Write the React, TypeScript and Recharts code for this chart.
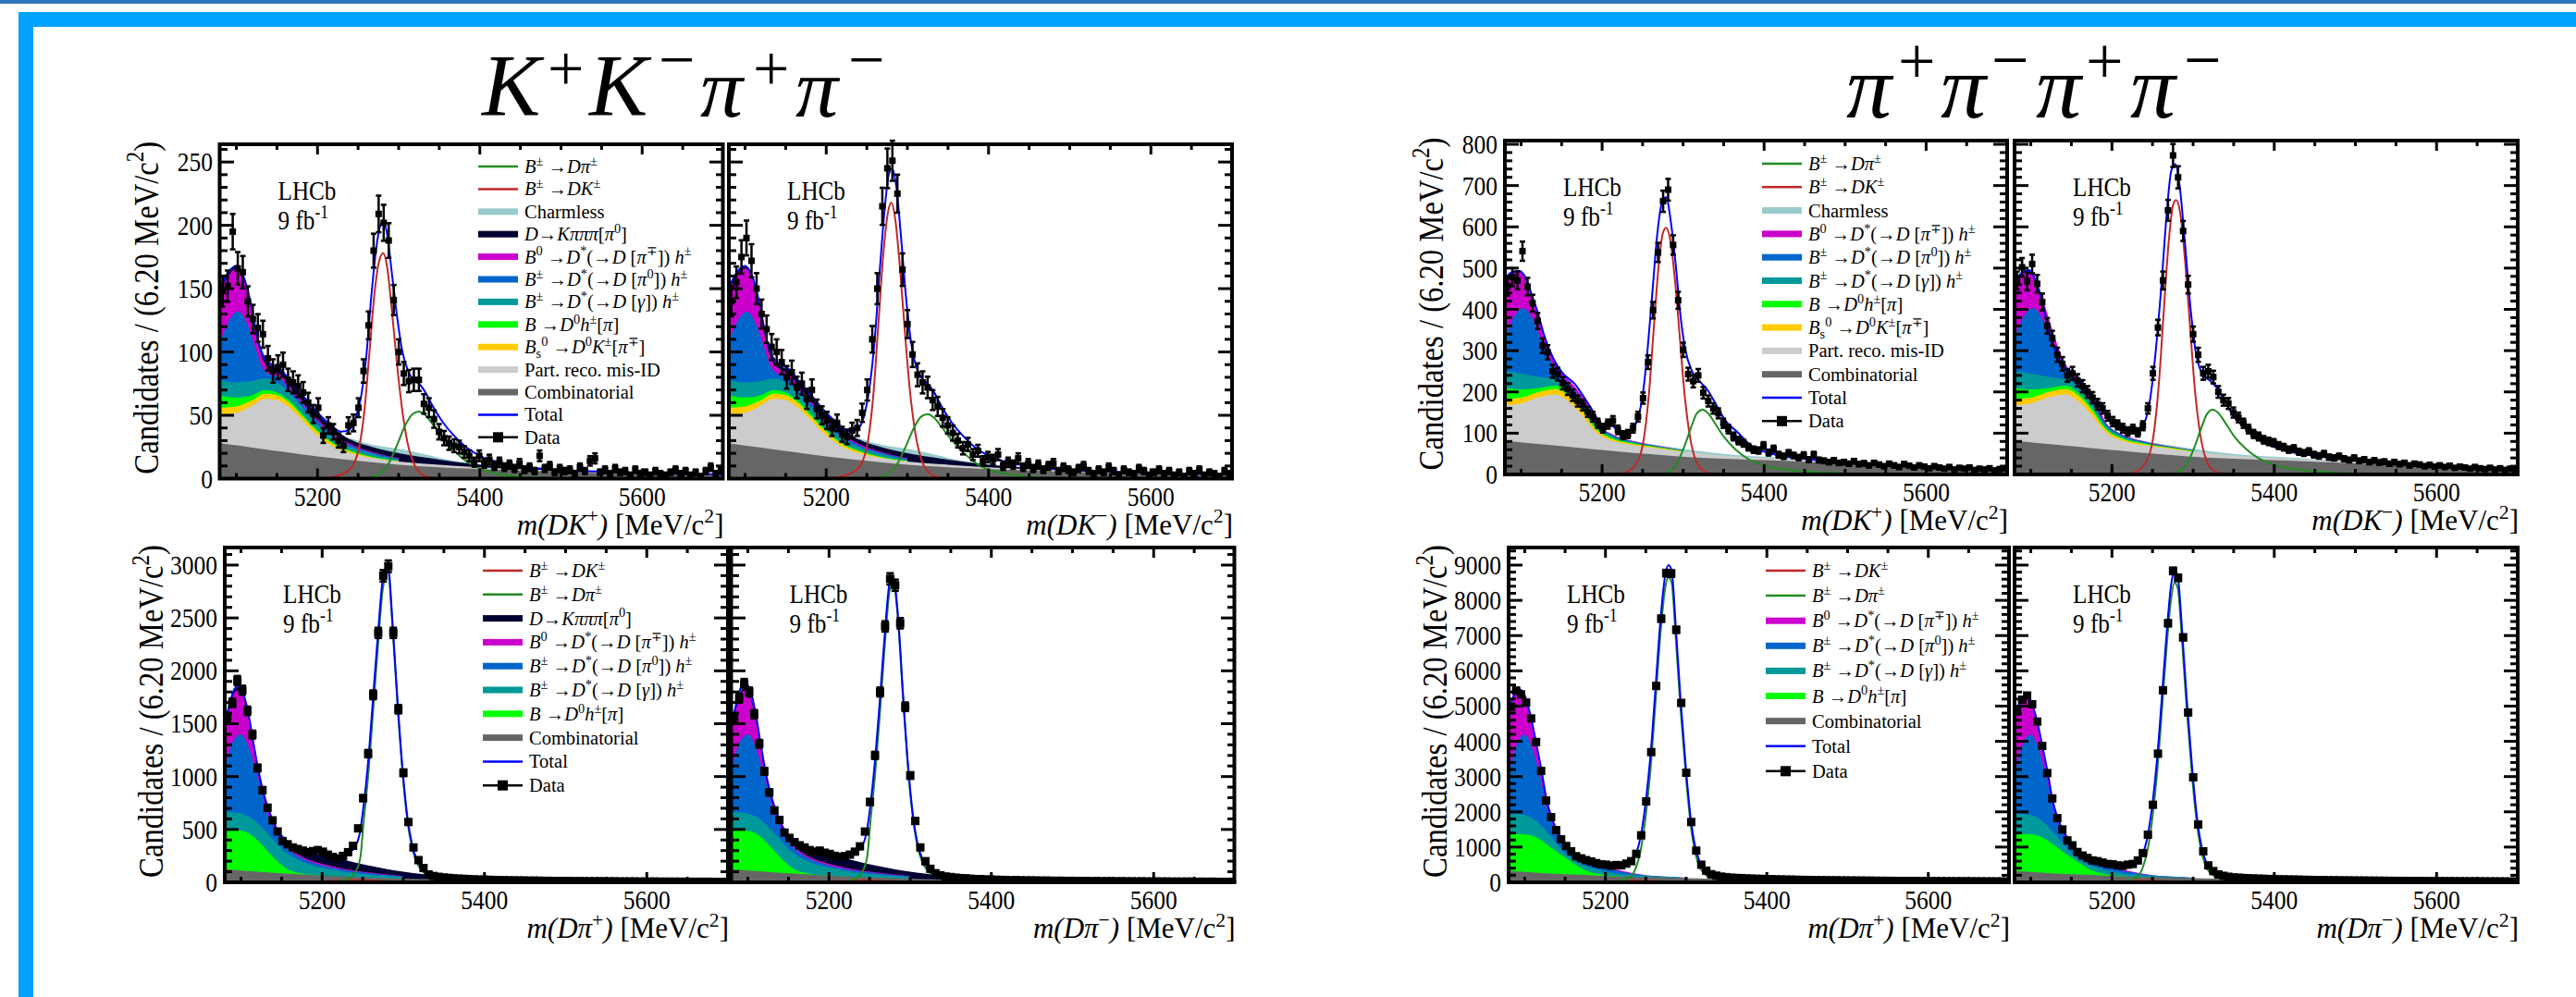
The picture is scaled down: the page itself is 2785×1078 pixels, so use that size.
import React from "react";
import {
  Area,
  ComposedChart,
  ErrorBar,
  Legend,
  Line,
  Scatter,
  XAxis,
  YAxis,
} from "recharts";

const SERIF = '"Liberation Serif", "Times New Roman", Times, serif';

type Pt = [number, number];

// mass window and binning (6.20 MeV bins)
const M_LO = 5080;
const M_HI = 5700;
const BIN = 6.2;
const binCentres = Array.from({ length: 100 }, (_, i) => +(M_LO + BIN * (i + 0.5)).toFixed(2));
const massTicks = [5100, 5150, 5200, 5250, 5300, 5350, 5400, 5450, 5500, 5550, 5600, 5650];

const C_CHARMLESS = "#99cccc";
const C_K3PI = "#000033";
const C_DSTPI = "#cc00cc";
const C_DSTPI0 = "#0066cc";
const C_DSTG = "#009999";
const C_D0H = "#00ff00";
const C_BS = "#ffcc00";
const C_MISID = "#cccccc";
const C_COMB = "#666666";
const C_DK = "#c02828";
const C_DPI = "#228b22";
const C_TOTAL = "#0000ff";

// ---------- K+K-pi+pi-, B -> DK candidates (top left pair), stacked boundaries
const kkDkComb: Pt[] = [[5080,28],[5120,24.5],[5160,21],[5200,17.5],[5250,14],[5300,11],[5350,9],[5400,7.5],[5450,6.3],[5500,5.3],[5600,3.8],[5700,2.8]];
const kkDkMisId: Pt[] = [[5080,51],[5100,52],[5120,58],[5135,63],[5150,62],[5165,56],[5180,47],[5200,34],[5220,25],[5240,20],[5270,16],[5300,13.5],[5350,11],[5400,9],[5450,7.5],[5500,6.3],[5600,4.5],[5700,3.3]];
const kkDkBs: Pt[] = [[5080,56],[5100,57],[5120,62],[5135,67],[5150,66],[5165,60],[5180,50],[5200,37],[5220,27],[5240,21.5],[5270,16.5],[5300,13.8]];
const kkDkD0h: Pt[] = [[5080,66],[5100,64],[5120,66],[5135,70],[5150,68],[5165,62],[5180,52],[5200,38.5],[5220,28],[5240,22.5],[5270,17],[5300,14.1]];
const kkDkDstG: Pt[] = [[5080,78],[5100,76],[5120,77],[5135,79],[5150,76],[5165,68],[5180,57],[5200,42.5],[5220,32],[5240,25],[5270,19],[5300,15]];
const kkDkDstPi0: Pt[] = [[5080,108],[5092,126],[5102,132],[5112,124],[5122,106],[5132,88],[5142,82],[5153,80],[5165,71],[5180,60],[5200,45.5],[5220,34],[5240,26.5],[5270,20],[5300,15.5]];
const kkDkDstPi: Pt[] = [[5080,148],[5090,160],[5100,166],[5110,157],[5118,136],[5126,108],[5134,92],[5144,86],[5155,82],[5165,73.5],[5180,62],[5200,47],[5220,35.5],[5240,27.5],[5270,20.7],[5300,16.2]];
const kkDkK3pi: Pt[] = [[5080,150],[5090,162],[5100,167.5],[5110,158.5],[5118,138],[5126,110],[5134,95],[5144,89],[5155,85],[5165,77],[5180,66],[5200,51],[5220,39.5],[5240,31],[5270,24.5],[5300,20],[5350,15],[5400,11],[5450,8.5],[5500,7],[5600,5],[5700,3.6]];
const kkDkCharmless: Pt[] = [[5240,32],[5270,26.5],[5290,24.5],[5310,22.5],[5330,19.5],[5350,16.5],[5380,13],[5400,11.5],[5430,9.6],[5460,8.2]];

const kkDkPlusSigDK: Pt[] = [[5200,0],[5220,1.5],[5235,5],[5245,12],[5252,27],[5258,55],[5264,100],[5270,145],[5276,172],[5281,178],[5286,166],[5292,130],[5298,90],[5304,56],[5311,28],[5320,10],[5332,2],[5345,0]];
const kkDkPlusSigDpi: Pt[] = [[5255,0],[5270,2],[5285,9],[5297,25],[5308,42],[5317,51],[5325,53],[5333,50],[5343,42],[5355,31],[5370,21],[5385,13],[5400,8],[5420,4],[5450,1.5],[5480,0.5],[5500,0]];
const kkDkPlusTotal: Pt[] = [[5080,151],[5090,163],[5100,168],[5108,161],[5118,138],[5126,111],[5134,96],[5144,90],[5155,86],[5165,78],[5180,67],[5200,52],[5215,43],[5229,37],[5240,39],[5248,50],[5254,66],[5260,96],[5266,142],[5272,180],[5277,199],[5281,203],[5286,192],[5292,160],[5298,128],[5304,102],[5311,86],[5318,78],[5325,75],[5333,68],[5343,56],[5355,44],[5368,34],[5381,26],[5400,18],[5430,12],[5460,9],[5500,7],[5550,5.5],[5600,4.5],[5650,3.8],[5700,3.3]];
const kkDkPlusData = [
  148,152,195,166,163,140,126,119,114,95,
  85,88,90,78,76,73,68,60,51,56,
  34,42,37,30,26,42,44,56,85,121,
  180,209,202,188,141,100,83,77,78,78,
  59,56,47,37,32,28,26,25,21,18,
  13,18,12,15,10,13,9,11,8,12,
  7,9,6,18,8,10,5,8,6,7,
  4,9,6,14,16,5,7,4,8,5,
  6,3,7,4,5,3,6,4,3,5,
  7,4,6,3,5,2,6,9,4,7,
];

const kkDkMinusSigDK: Pt[] = [[5200,0],[5220,2],[5235,6],[5245,14],[5252,32],[5258,66],[5264,120],[5270,175],[5276,210],[5280,218],[5285,205],[5291,165],[5297,115],[5303,70],[5310,35],[5319,12],[5330,3],[5345,0]];
const kkDkMinusSigDpi: Pt[] = [[5255,0],[5270,2],[5285,9],[5297,24],[5308,40],[5317,49],[5325,51],[5333,48],[5343,40],[5355,30],[5370,20],[5385,12],[5400,7],[5420,4],[5450,1.5],[5480,0.5],[5500,0]];
const kkDkMinusTotal: Pt[] = [[5080,151],[5090,163],[5100,168],[5108,161],[5118,138],[5126,111],[5134,96],[5144,90],[5155,86],[5165,78],[5180,67],[5200,52],[5215,43],[5229,37],[5240,40],[5248,53],[5254,75],[5260,112],[5266,165],[5272,213],[5277,240],[5281,245],[5286,232],[5292,192],[5298,145],[5304,110],[5311,88],[5318,79],[5325,75],[5333,68],[5343,56],[5355,44],[5368,34],[5381,26],[5400,18],[5430,12],[5460,9],[5500,7],[5550,5.5],[5600,4.5],[5650,3.8],[5700,3.3]];
const kkDkMinusData = [
  140,155,175,190,172,150,130,118,104,100,
  92,80,84,72,75,63,70,55,50,46,
  40,44,35,33,38,40,52,70,110,150,
  215,245,251,225,165,122,98,82,76,72,
  62,57,48,42,36,30,24,27,19,22,
  14,17,15,19,10,13,11,16,9,12,
  8,11,7,10,12,6,9,7,5,8,
  10,6,4,7,5,9,6,3,7,5,
  4,8,6,3,5,7,4,6,3,5,
  2,6,4,7,3,5,4,2,6,4,
];

// ---------- pi+pi-pi+pi-, B -> DK candidates (top right pair)
const ppDkComb: Pt[] = [[5080,82],[5130,72],[5180,63],[5230,54],[5280,46],[5307,42],[5350,38],[5410,34],[5450,31],[5500,27],[5550,23],[5600,20],[5650,17],[5700,14]];
const ppDkMisId: Pt[] = [[5080,168],[5100,172],[5120,186],[5143,194],[5158,178],[5174,146],[5193,101],[5212,82],[5238,71],[5269,63],[5307,53],[5350,46],[5400,40],[5450,35],[5500,30],[5550,25],[5600,21],[5650,18],[5700,15]];
const ppDkBs: Pt[] = [[5080,183],[5100,186],[5120,199],[5143,207],[5158,192],[5174,158],[5193,108],[5212,86],[5238,74],[5269,65],[5300,56]];
const ppDkD0h: Pt[] = [[5080,210],[5100,206],[5120,209],[5143,215],[5158,199],[5174,165],[5193,112],[5212,89],[5238,76],[5269,66],[5300,57]];
const ppDkDstG: Pt[] = [[5080,250],[5100,244],[5120,237],[5143,230],[5158,212],[5174,176],[5193,118],[5212,93],[5238,78],[5269,67],[5300,58]];
const ppDkDstPi0: Pt[] = [[5080,330],[5092,385],[5103,403],[5112,385],[5122,340],[5132,292],[5143,255],[5158,222],[5174,185],[5193,122],[5212,96],[5238,80],[5269,68],[5300,58.5]];
const ppDkDstPi: Pt[] = [[5080,470],[5090,490],[5098,493],[5106,474],[5114,430],[5122,380],[5130,330],[5140,278],[5151,245],[5166,214],[5180,176],[5193,125],[5212,98],[5238,81],[5269,69],[5300,59]];
const ppDkCharmless: Pt[] = [[5230,84],[5269,71],[5300,62],[5350,50],[5400,43],[5450,37],[5500,31],[5550,26],[5600,22],[5650,18],[5700,15]];

const ppDkPlusSigDK: Pt[] = [[5215,0],[5228,4],[5240,20],[5250,70],[5258,200],[5264,360],[5270,510],[5275,585],[5279,598],[5284,570],[5290,470],[5296,330],[5302,190],[5309,85],[5316,32],[5325,9],[5338,1],[5350,0]];
const ppDkPlusSigDpi: Pt[] = [[5265,0],[5280,5],[5292,25],[5302,70],[5310,115],[5317,148],[5324,157],[5331,148],[5340,122],[5350,92],[5365,60],[5380,38],[5400,22],[5430,11],[5470,5],[5520,2],[5580,0]];
const ppDkPlusTotal: Pt[] = [[5080,474],[5088,490],[5098,493],[5106,475],[5114,430],[5121,390],[5128,340],[5140,280],[5151,246],[5166,220],[5185,165],[5200,122],[5212,118],[5223,103],[5235,100],[5243,130],[5250,190],[5256,300],[5262,440],[5268,580],[5274,660],[5279,672],[5285,610],[5291,505],[5297,380],[5303,300],[5311,250],[5322,222],[5330,205],[5341,168],[5352,131],[5368,101],[5383,71],[5410,50],[5450,38],[5500,30],[5550,24],[5600,20],[5650,16],[5700,13]];
const ppDkPlusData = [
  455,478,470,541,455,415,372,312,296,250,
  243,221,207,192,178,168,152,140,124,112,
  122,130,108,95,98,112,140,185,272,398,
  538,662,690,556,422,302,243,226,240,198,
  178,160,148,124,110,92,82,76,66,60,
  58,70,53,62,48,44,52,46,41,47,
  36,48,35,33,30,34,28,30,26,32,
  25,27,22,28,24,20,26,22,18,25,
  21,17,22,19,15,20,17,14,18,12,
  16,14,17,11,14,12,15,10,13,15,
];

const ppDkMinusSigDK: Pt[] = [[5215,0],[5228,5],[5240,24],[5250,80],[5258,225],[5264,400],[5270,565],[5275,650],[5279,665],[5284,635],[5290,520],[5296,365],[5302,210],[5309,95],[5316,36],[5325,10],[5338,1],[5350,0]];
const ppDkMinusSigDpi: Pt[] = [[5265,0],[5280,5],[5292,24],[5302,68],[5310,112],[5317,146],[5324,157],[5331,149],[5340,124],[5350,94],[5365,62],[5380,40],[5400,23],[5430,12],[5470,5],[5520,2],[5580,0]];
const ppDkMinusTotal: Pt[] = [[5080,469],[5090,490],[5098,495],[5106,470],[5114,420],[5122,350],[5130,300],[5140,262],[5151,246],[5166,215],[5185,170],[5200,128],[5212,118],[5223,108],[5235,112],[5246,170],[5254,300],[5261,460],[5267,620],[5273,735],[5278,752],[5284,690],[5290,560],[5296,420],[5303,300],[5311,245],[5322,225],[5330,208],[5341,170],[5352,136],[5368,106],[5383,82],[5410,60],[5450,45],[5500,35],[5550,27],[5600,21],[5650,17],[5700,14]];
const ppDkMinusData = [
  470,502,468,510,462,418,360,330,290,268,
  240,245,228,214,200,186,170,160,142,128,
  120,112,104,110,102,118,160,245,356,470,
  640,773,720,590,460,340,290,245,250,236,
  200,180,172,150,138,124,110,98,92,84,
  80,77,70,66,60,63,55,52,56,48,
  45,50,42,40,44,38,35,40,33,36,
  30,34,29,31,26,30,25,28,22,26,
  24,20,23,19,22,18,21,16,19,17,
  14,18,15,13,16,12,15,11,14,12,
];

// ---------- K+K-pi+pi-, B -> Dpi candidates (bottom left pair)
const kkDpiComb: Pt[] = [[5080,125],[5120,100],[5160,80],[5200,63],[5250,47],[5300,35],[5350,26],[5400,20],[5450,15],[5500,11.5],[5550,9],[5600,7],[5650,5.5],[5700,4.5]];
const kkDpiD0h: Pt[] = [[5080,485],[5092,492],[5104,480],[5114,440],[5124,370],[5134,285],[5144,205],[5154,140],[5165,100],[5180,77],[5200,64],[5220,57]];
const kkDpiDstG: Pt[] = [[5080,665],[5092,660],[5104,640],[5116,590],[5128,500],[5140,400],[5152,300],[5165,232],[5180,180],[5200,138],[5220,108],[5250,79],[5280,59],[5300,49]];
const kkDpiDstPi0: Pt[] = [[5080,1060],[5090,1330],[5100,1400],[5108,1310],[5116,1120],[5124,900],[5132,660],[5140,520],[5150,390],[5162,290],[5180,210],[5200,160],[5220,127],[5250,93],[5280,69],[5300,56]];
const kkDpiDstPi: Pt[] = [[5080,1470],[5086,1660],[5092,1795],[5098,1820],[5104,1720],[5110,1520],[5116,1250],[5122,1000],[5128,810],[5134,670],[5140,550],[5147,440],[5155,360],[5165,290],[5180,225],[5200,175],[5220,138],[5250,100],[5280,74],[5300,60]];
const kkDpiK3pi: Pt[] = [[5080,1490],[5086,1680],[5092,1820],[5098,1850],[5104,1750],[5110,1550],[5116,1280],[5122,1030],[5128,830],[5134,685],[5140,565],[5147,465],[5155,393],[5165,336],[5180,293],[5195,265],[5210,238],[5222,222],[5240,188],[5260,155],[5280,125],[5300,100],[5320,80],[5340,62],[5360,49],[5400,27],[5450,18.5],[5500,13.5],[5600,8.5],[5700,5]];

const kkDpiPlusSigDK: Pt[] = [[5150,0],[5190,5],[5215,15],[5235,22],[5255,20],[5275,12],[5300,5],[5330,0]];
const kkDpiPlusSigDpi: Pt[] = [[5190,0],[5210,5],[5225,18],[5235,45],[5242,110],[5247,230],[5251,560],[5257,1030],[5263,1640],[5269,2260],[5275,2790],[5281,2930],[5287,2380],[5293,1660],[5299,1040],[5305,585],[5311,320],[5317,180],[5324,100],[5332,55],[5345,25],[5365,10],[5400,4],[5450,1],[5500,0]];
const kkDpiPlusTotal: Pt[] = [[5080,1500],[5086,1690],[5092,1830],[5098,1860],[5104,1760],[5110,1560],[5116,1290],[5122,1040],[5128,840],[5134,690],[5140,570],[5147,470],[5155,400],[5165,345],[5180,305],[5195,282],[5210,258],[5222,250],[5232,275],[5240,330],[5246,450],[5251,720],[5257,1170],[5263,1770],[5269,2370],[5275,2880],[5281,2990],[5287,2420],[5293,1700],[5299,1080],[5305,620],[5311,350],[5317,210],[5324,130],[5332,85],[5345,58],[5365,43],[5400,28],[5450,19],[5500,14],[5600,9],[5700,5]];
const kkDpiPlusData = [
  1560,1697,1908,1817,1622,1397,1081,871,706,586,
  481,390,360,330,315,300,285,295,305,290,
  262,240,225,250,285,345,510,796,1217,1773,
  2359,2899,2989,2359,1637,1036,570,330,210,135,
  74,60,52,46,42,38,35,33,30,28,
  26,25,24,22,21,20,19,18,18,17,
  16,16,15,14,14,13,13,12,12,11,
  11,11,10,10,10,9,9,9,8,8,
  8,8,7,7,7,7,6,6,6,6,
  6,5,5,5,5,5,5,4,4,4,
];

const kkDpiMinusSigDK: Pt[] = [[5150,0],[5190,5],[5215,14],[5235,20],[5255,18],[5275,11],[5300,4],[5330,0]];
const kkDpiMinusSigDpi: Pt[] = [[5190,0],[5210,5],[5225,18],[5235,45],[5242,115],[5247,240],[5251,570],[5257,1040],[5263,1630],[5269,2270],[5275,2770],[5279,2830],[5285,2480],[5291,1760],[5297,1110],[5303,630],[5309,340],[5315,190],[5322,105],[5330,58],[5345,26],[5365,11],[5400,4],[5450,1],[5500,0]];
const kkDpiMinusTotal: Pt[] = [[5080,1480],[5086,1700],[5092,1850],[5098,1875],[5104,1790],[5110,1580],[5116,1300],[5122,1040],[5128,840],[5134,690],[5140,570],[5147,475],[5155,410],[5165,352],[5180,310],[5195,285],[5210,260],[5222,252],[5232,276],[5240,332],[5246,460],[5251,730],[5257,1180],[5263,1760],[5269,2380],[5275,2850],[5279,2890],[5285,2520],[5291,1800],[5297,1140],[5303,660],[5309,370],[5315,220],[5322,135],[5330,88],[5345,58],[5365,43],[5400,28],[5450,19],[5500,14],[5600,9],[5700,5]];
const kkDpiMinusData = [
  1550,1740,1880,1800,1590,1310,1050,850,680,590,
  470,420,380,350,330,305,290,300,280,268,
  250,240,248,262,290,340,480,760,1200,1800,
  2420,2870,2810,2450,1660,1010,580,330,200,128,
  86,66,55,50,44,40,38,34,31,30,
  27,26,24,23,22,20,21,19,18,18,
  17,16,16,15,14,15,13,14,12,13,
  12,11,12,10,11,10,9,10,9,9,
  8,9,8,7,8,7,8,6,7,6,
  7,6,5,6,5,6,5,4,5,4,
];

// ---------- pi+pi-pi+pi-, B -> Dpi candidates (bottom right pair)
const ppDpiComb: Pt[] = [[5080,320],[5120,265],[5160,220],[5200,180],[5250,145],[5300,118],[5350,98],[5400,82],[5450,68],[5500,57],[5550,48],[5600,40],[5650,33],[5700,28]];
const ppDpiD0h: Pt[] = [[5080,1350],[5095,1370],[5108,1330],[5120,1200],[5132,1000],[5145,780],[5158,580],[5170,400],[5185,260],[5200,200],[5220,167]];
const ppDpiDstG: Pt[] = [[5080,1940],[5092,1930],[5104,1880],[5114,1740],[5124,1520],[5134,1250],[5144,980],[5155,740],[5167,560],[5180,430],[5200,300],[5220,230],[5250,185],[5280,150],[5300,124]];
const ppDpiDstPi0: Pt[] = [[5080,3000],[5090,3900],[5100,4190],[5107,3950],[5114,3450],[5121,2800],[5127,2150],[5133,1720],[5140,1380],[5147,1120],[5155,900],[5165,690],[5178,540],[5190,460],[5200,400],[5220,300],[5250,200],[5280,155],[5300,127]];
const ppDpiPlusDstPi: Pt[] = [[5080,4750],[5088,5350],[5094,5450],[5100,5250],[5107,4700],[5114,3920],[5121,3100],[5127,2320],[5133,1820],[5140,1450],[5147,1180],[5155,950],[5165,720],[5178,590],[5190,510],[5200,455],[5220,330],[5250,205],[5280,158],[5300,130]];
const ppDpiMinusDstPi: Pt[] = [[5080,4580],[5088,5170],[5094,5290],[5100,5120],[5107,4620],[5114,3880],[5121,3080],[5127,2300],[5133,1810],[5140,1440],[5147,1175],[5155,945],[5165,715],[5178,585],[5190,505],[5200,452],[5220,330],[5250,205],[5280,158],[5300,130]];

const ppDpiSigDK: Pt[] = [[5150,0],[5190,15],[5215,40],[5235,55],[5255,45],[5275,25],[5300,8],[5330,0]];
const ppDpiPlusSigDpi: Pt[] = [[5190,0],[5215,30],[5230,140],[5238,430],[5244,950],[5250,1900],[5256,3250],[5262,5100],[5268,7000],[5274,8350],[5278,8650],[5282,8500],[5287,6980],[5293,4930],[5300,2930],[5306,1560],[5312,770],[5318,380],[5325,200],[5335,100],[5350,45],[5375,18],[5400,7],[5450,2],[5500,0]];
const ppDpiPlusTotal: Pt[] = [[5080,4800],[5088,5380],[5094,5470],[5100,5300],[5107,4750],[5114,3970],[5121,3150],[5127,2350],[5133,1850],[5140,1480],[5147,1210],[5153,1040],[5160,860],[5166,730],[5172,670],[5178,625],[5185,580],[5192,540],[5200,505],[5210,480],[5220,490],[5230,580],[5238,820],[5244,1350],[5250,2300],[5256,3650],[5262,5500],[5268,7400],[5274,8700],[5278,9000],[5282,8850],[5287,7300],[5293,5200],[5300,3150],[5306,1750],[5312,930],[5318,520],[5325,320],[5335,210],[5350,150],[5375,115],[5400,92],[5450,71],[5500,58],[5550,49],[5600,41],[5650,34],[5700,29]];
const ppDpiPlusData = [
  4980,5440,5330,5100,4650,3980,3160,2320,1850,1480,
  1220,1030,880,740,680,630,590,545,510,500,
  470,490,480,530,600,808,1333,2296,3695,5571,
  7480,8772,8760,7165,5090,3109,1711,900,500,330,
  230,190,162,146,131,124,119,110,106,99,
  97,91,89,84,81,77,75,72,69,67,
  64,62,61,58,57,56,53,52,51,50,
  48,47,46,44,43,42,41,40,39,37,
  36,36,34,34,33,32,32,31,30,29,
  29,28,27,27,26,25,25,24,23,22,
];

const ppDpiMinusSigDpi: Pt[] = [[5190,0],[5215,30],[5230,140],[5238,420],[5244,930],[5250,1850],[5256,3200],[5262,5000],[5268,6850],[5273,8050],[5277,8500],[5281,8350],[5286,6980],[5292,4950],[5299,2950],[5305,1600],[5311,800],[5317,400],[5324,210],[5334,105],[5350,45],[5375,18],[5400,7],[5450,2],[5500,0]];
const ppDpiMinusTotal: Pt[] = [[5080,4600],[5088,5200],[5094,5320],[5100,5150],[5107,4650],[5114,3900],[5121,3100],[5127,2320],[5133,1830],[5140,1470],[5147,1200],[5153,1030],[5160,850],[5166,725],[5172,665],[5178,620],[5185,575],[5192,535],[5200,500],[5210,478],[5220,488],[5230,575],[5238,810],[5244,1320],[5250,2250],[5256,3600],[5262,5400],[5268,7250],[5273,8450],[5277,8850],[5281,8700],[5286,7300],[5292,5250],[5299,3200],[5305,1800],[5311,950],[5317,530],[5324,320],[5334,210],[5350,150],[5375,115],[5400,92],[5450,71],[5500,58],[5550,49],[5600,41],[5650,34],[5700,29]];
const ppDpiMinusData = [
  4850,5180,5300,5050,4560,3870,3100,2380,1820,1500,
  1190,1050,860,760,690,620,600,560,520,510,
  480,470,500,520,620,830,1350,2200,3650,5450,
  7350,8835,8640,6950,4820,2980,1640,880,480,320,
  225,185,158,140,132,122,116,108,104,99,
  94,91,87,83,80,77,75,71,69,66,
  63,62,59,58,56,54,53,51,50,49,
  47,46,45,44,42,41,40,40,38,37,
  36,35,34,34,33,32,31,30,30,29,
  28,28,27,26,25,25,24,23,23,22,
];

// ---------- legends
type LegendRow = { kind: "line" | "box" | "data"; color: string; label: string };
const R_DPI: LegendRow = { kind: "line", color: C_DPI, label: "~B~^{±} →~Dπ~^{±}" };
const R_DK: LegendRow = { kind: "line", color: C_DK, label: "~B~^{±} →~DK~^{±}" };
const R_CHARMLESS: LegendRow = { kind: "box", color: C_CHARMLESS, label: "Charmless" };
const R_K3PI: LegendRow = { kind: "box", color: C_K3PI, label: "~D~→~Kπππ~[~π~^{0}]" };
const R_DSTPI: LegendRow = { kind: "box", color: C_DSTPI, label: "~B~^{0} →~D~^{*}(→~D~ [~π~^{∓}]) ~h~^{±}" };
const R_DSTPI0: LegendRow = { kind: "box", color: C_DSTPI0, label: "~B~^{±} →~D~^{*}(→~D~ [~π~^{0}]) ~h~^{±}" };
const R_DSTG: LegendRow = { kind: "box", color: C_DSTG, label: "~B~^{±} →~D~^{*}(→~D~ [~γ~]) ~h~^{±}" };
const R_D0H: LegendRow = { kind: "box", color: C_D0H, label: "~B~ →~D~^{0}~h~^{±}[~π~]" };
const R_BS: LegendRow = { kind: "box", color: C_BS, label: "~B~_{s}^{0} →~D~^{0}~K~^{±}[~π~^{∓}]" };
const R_MISID: LegendRow = { kind: "box", color: C_MISID, label: "Part. reco. mis-ID" };
const R_COMB: LegendRow = { kind: "box", color: C_COMB, label: "Combinatorial" };
const R_TOTAL: LegendRow = { kind: "line", color: C_TOTAL, label: "Total" };
const R_DATA: LegendRow = { kind: "data", color: "#000", label: "Data" };

const legKkDk = [R_DPI, R_DK, R_CHARMLESS, R_K3PI, R_DSTPI, R_DSTPI0, R_DSTG, R_D0H, R_BS, R_MISID, R_COMB, R_TOTAL, R_DATA];
const legPpDk = [R_DPI, R_DK, R_CHARMLESS, R_DSTPI, R_DSTPI0, R_DSTG, R_D0H, R_BS, R_MISID, R_COMB, R_TOTAL, R_DATA];
const legKkDpi = [R_DK, R_DPI, R_K3PI, R_DSTPI, R_DSTPI0, R_DSTG, R_D0H, R_COMB, R_TOTAL, R_DATA];
const legPpDpi = [R_DK, R_DPI, R_DSTPI, R_DSTPI0, R_DSTG, R_D0H, R_COMB, R_TOTAL, R_DATA];

// tiny TLatex-like renderer: ~ toggles italic, ^{..} superscript, _{..} subscript
function tex(s: string, fs: number) {
  const out: React.ReactNode[] = [];
  let it = false;
  let shift = 0;
  let buf = "";
  let k = 0;
  let i = 0;
  const push = (t: string, level: number, italic: boolean, size: number) => {
    const dy = level - shift;
    shift = level;
    out.push(
      <tspan key={k++} dy={dy || undefined} fontStyle={italic ? "italic" : "normal"} fontSize={size}>
        {t}
      </tspan>,
    );
  };
  const flush = () => {
    if (buf) {
      push(buf, 0, it, fs);
      buf = "";
    }
  };
  while (i < s.length) {
    const c = s[i];
    if (c === "~") {
      flush();
      it = !it;
      i++;
      continue;
    }
    if ((c === "^" || c === "_") && s[i + 1] === "{") {
      flush();
      const end = s.indexOf("}", i);
      push(s.slice(i + 2, end), c === "^" ? -0.4 * fs : 0.22 * fs, false, fs * 0.7);
      i = end + 1;
      continue;
    }
    buf += c;
    i++;
  }
  flush();
  return out;
}

type LegendSpec = { dx: number; dy: number; step: number; rows: LegendRow[] };

function LegendBox({ spec }: { spec: LegendSpec }) {
  const h = 28 + (spec.rows.length - 1) * spec.step;
  return (
    <svg width={300} height={h} style={{ display: "block", overflow: "visible" }}>
      {spec.rows.map((r, i) => {
        const cy = 14 + i * spec.step;
        return (
          <g key={i}>
            {r.kind === "box" && <rect x={0} y={cy - 3.5} width={43} height={7} fill={r.color} />}
            {r.kind === "line" && <line x1={0} x2={43} y1={cy} y2={cy} stroke={r.color} strokeWidth={2.5} />}
            {r.kind === "data" && (
              <>
                <line x1={0} x2={43} y1={cy} y2={cy} stroke="#000" strokeWidth={2.5} />
                <rect x={16} y={cy - 5.5} width={11} height={11} fill="#000" />
              </>
            )}
            <text x={50} y={cy + 7} fontFamily={SERIF} fontSize={20.5} fill="#000">
              {tex(r.label, 20.5)}
            </text>
          </g>
        );
      })}
    </svg>
  );
}

type Layer = { pts: Pt[]; color: string };
type PanelSpec = {
  x: number;
  y: number;
  w: number;
  h: number;
  yMax: number;
  yStep: number;
  yMajor: number;
  yLabels: boolean;
  layers: Layer[];
  dk: Pt[];
  dpi: Pt[];
  total: Pt[];
  counts: number[];
  marker: number;
  cap: number;
  legend?: LegendSpec;
  xTitle: string;
  yTitle?: boolean;
};

const ML = 90;
const MT = 12;
const MR = 12;
const MB = 46;

const toPts = (a: Pt[]) => a.map(([m, v]) => ({ m, v }));

function Panel(p: PanelSpec) {
  const yTicks: number[] = [];
  for (let v = 0; v <= p.yMax; v += p.yStep) yTicks.push(v);
  const left = ML;
  const right = ML + p.w;
  const top = MT;
  const bottom = MT + p.h;
  const data = p.counts.map((v, i) => ({ m: binCentres[i], v, e: Math.sqrt(v) }));

  const xTick = (t: any) => {
    const v = t.payload.value;
    const major = v % 200 === 0;
    const len = major ? 11 : 6;
    return (
      <g>
        <line x1={t.x} x2={t.x} y1={bottom} y2={bottom - len} stroke="#000" strokeWidth={3} />
        <line x1={t.x} x2={t.x} y1={top} y2={top + len} stroke="#000" strokeWidth={3} />
        {major && (
          <text transform={`translate(${t.x},${bottom + 29}) scale(0.88,1)`} textAnchor="middle" fontFamily={SERIF} fontSize={29} fill="#000">
            {v}
          </text>
        )}
      </g>
    );
  };
  const yTick = (t: any) => {
    const v = t.payload.value;
    const major = v % p.yMajor === 0;
    const len = major ? 15 : 8;
    return (
      <g>
        <line x1={left} x2={left + len} y1={t.y} y2={t.y} stroke="#000" strokeWidth={3} />
        <line x1={right - len} x2={right} y1={t.y} y2={t.y} stroke="#000" strokeWidth={3} />
        {p.yLabels && major && (
          <text transform={`translate(${left - 8},${t.y + 10}) scale(0.88,1)`} textAnchor="end" fontFamily={SERIF} fontSize={29} fill="#000">
            {v}
          </text>
        )}
      </g>
    );
  };

  return (
    <div style={{ position: "absolute", left: p.x - ML, top: p.y - MT }}>
      <ComposedChart width={p.w + ML + MR} height={p.h + MT + MB} margin={{ top: MT, right: MR, bottom: 0, left: 0 }}>
        {p.layers.map((l, i) => (
          <Area
            key={i}
            data={toPts(l.pts)}
            dataKey="v"
            type="monotone"
            stroke="none"
            fill={l.color}
            fillOpacity={1}
            isAnimationActive={false}
          />
        ))}
        <Line data={toPts(p.dk)} dataKey="v" type="monotone" stroke={C_DK} strokeWidth={2} dot={false} isAnimationActive={false} />
        <Line data={toPts(p.dpi)} dataKey="v" type="monotone" stroke={C_DPI} strokeWidth={2} dot={false} isAnimationActive={false} />
        <Line data={toPts(p.total)} dataKey="v" type="monotone" stroke={C_TOTAL} strokeWidth={2} dot={false} isAnimationActive={false} />
        <XAxis
          dataKey="m"
          type="number"
          domain={[M_LO, M_HI]}
          ticks={massTicks}
          interval={0}
          allowDataOverflow
          height={MB}
          axisLine={false}
          tickLine={false}
          tick={xTick}
        />
        <YAxis
          type="number"
          domain={[0, p.yMax]}
          ticks={yTicks}
          interval={0}
          allowDataOverflow
          width={ML}
          axisLine={false}
          tickLine={false}
          tick={yTick}
        />
        <Scatter
          data={data}
          dataKey="v"
          isAnimationActive={false}
          shape={(s: any) => (
            <rect x={s.cx - p.marker / 2} y={s.cy - p.marker / 2} width={p.marker} height={p.marker} fill="#000" />
          )}
        >
          <ErrorBar dataKey="e" direction="y" width={p.cap} strokeWidth={2.5} stroke="#000" isAnimationActive={false} />
        </Scatter>
        {p.legend && (
          <Legend
            layout="horizontal"
            verticalAlign="middle"
            align="center"
            wrapperStyle={{ left: ML + p.legend.dx, top: MT + p.legend.dy - 14, width: 300 }}
            content={() => <LegendBox spec={p.legend as LegendSpec} />}
          />
        )}
      </ComposedChart>
    </div>
  );
}

const kkDkLayers: Layer[] = [
  { pts: kkDkCharmless, color: C_CHARMLESS },
  { pts: kkDkK3pi, color: C_K3PI },
  { pts: kkDkDstPi, color: C_DSTPI },
  { pts: kkDkDstPi0, color: C_DSTPI0 },
  { pts: kkDkDstG, color: C_DSTG },
  { pts: kkDkD0h, color: C_D0H },
  { pts: kkDkBs, color: C_BS },
  { pts: kkDkMisId, color: C_MISID },
  { pts: kkDkComb, color: C_COMB },
];
const ppDkLayers: Layer[] = [
  { pts: ppDkCharmless, color: C_CHARMLESS },
  { pts: ppDkDstPi, color: C_DSTPI },
  { pts: ppDkDstPi0, color: C_DSTPI0 },
  { pts: ppDkDstG, color: C_DSTG },
  { pts: ppDkD0h, color: C_D0H },
  { pts: ppDkBs, color: C_BS },
  { pts: ppDkMisId, color: C_MISID },
  { pts: ppDkComb, color: C_COMB },
];
const kkDpiLayers: Layer[] = [
  { pts: kkDpiK3pi, color: C_K3PI },
  { pts: kkDpiDstPi, color: C_DSTPI },
  { pts: kkDpiDstPi0, color: C_DSTPI0 },
  { pts: kkDpiDstG, color: C_DSTG },
  { pts: kkDpiD0h, color: C_D0H },
  { pts: kkDpiComb, color: C_COMB },
];
const ppDpiPlusLayers: Layer[] = [
  { pts: ppDpiPlusDstPi, color: C_DSTPI },
  { pts: ppDpiDstPi0, color: C_DSTPI0 },
  { pts: ppDpiDstG, color: C_DSTG },
  { pts: ppDpiD0h, color: C_D0H },
  { pts: ppDpiComb, color: C_COMB },
];
const ppDpiMinusLayers: Layer[] = [
  { pts: ppDpiMinusDstPi, color: C_DSTPI },
  { pts: ppDpiDstPi0, color: C_DSTPI0 },
  { pts: ppDpiDstG, color: C_DSTG },
  { pts: ppDpiD0h, color: C_D0H },
  { pts: ppDpiComb, color: C_COMB },
];

const PANELS: PanelSpec[] = [
  {
    x: 237.5, y: 156, w: 544, h: 361.5, yMax: 264, yStep: 10, yMajor: 50, yLabels: true,
    layers: kkDkLayers, dk: kkDkPlusSigDK, dpi: kkDkPlusSigDpi, total: kkDkPlusTotal, counts: kkDkPlusData,
    marker: 7, cap: 3, legend: { dx: 279.5, dy: 24, step: 24.4, rows: legKkDk },
    xTitle: "~m(DK~^{+}~)~ [MeV/c^{2}]", yTitle: true,
  },
  {
    x: 788, y: 156, w: 544, h: 361.5, yMax: 264, yStep: 10, yMajor: 50, yLabels: false,
    layers: kkDkLayers, dk: kkDkMinusSigDK, dpi: kkDkMinusSigDpi, total: kkDkMinusTotal, counts: kkDkMinusData,
    marker: 7, cap: 3, xTitle: "~m(DK~^{−}~)~ [MeV/c^{2}]",
  },
  {
    x: 1627, y: 152, w: 543, h: 361, yMax: 809, yStep: 20, yMajor: 100, yLabels: true,
    layers: ppDkLayers, dk: ppDkPlusSigDK, dpi: ppDkPlusSigDpi, total: ppDkPlusTotal, counts: ppDkPlusData,
    marker: 7, cap: 3, legend: { dx: 278, dy: 25, step: 25.3, rows: legPpDk },
    xTitle: "~m(DK~^{+}~)~ [MeV/c^{2}]", yTitle: true,
  },
  {
    x: 2178, y: 152, w: 544, h: 361, yMax: 809, yStep: 20, yMajor: 100, yLabels: false,
    layers: ppDkLayers, dk: ppDkMinusSigDK, dpi: ppDkMinusSigDpi, total: ppDkMinusTotal, counts: ppDkMinusData,
    marker: 7, cap: 3, xTitle: "~m(DK~^{−}~)~ [MeV/c^{2}]",
  },
  {
    x: 243, y: 592, w: 544, h: 362, yMax: 3166, yStep: 100, yMajor: 500, yLabels: true,
    layers: kkDpiLayers, dk: kkDpiPlusSigDK, dpi: kkDpiPlusSigDpi, total: kkDpiPlusTotal, counts: kkDpiPlusData,
    marker: 9, cap: 4, legend: { dx: 279, dy: 25, step: 25.8, rows: legKkDpi },
    xTitle: "~m(Dπ~^{+}~)~ [MeV/c^{2}]", yTitle: true,
  },
  {
    x: 790.5, y: 592, w: 544, h: 362, yMax: 3166, yStep: 100, yMajor: 500, yLabels: false,
    layers: kkDpiLayers, dk: kkDpiMinusSigDK, dpi: kkDpiMinusSigDpi, total: kkDpiMinusTotal, counts: kkDpiMinusData,
    marker: 9, cap: 4, xTitle: "~m(Dπ~^{−}~)~ [MeV/c^{2}]",
  },
  {
    x: 1631, y: 592, w: 541, h: 362, yMax: 9499, yStep: 200, yMajor: 1000, yLabels: true,
    layers: ppDpiPlusLayers, dk: ppDpiSigDK, dpi: ppDpiPlusSigDpi, total: ppDpiPlusTotal, counts: ppDpiPlusData,
    marker: 9, cap: 4, legend: { dx: 278, dy: 25, step: 27.1, rows: legPpDpi },
    xTitle: "~m(Dπ~^{+}~)~ [MeV/c^{2}]", yTitle: true,
  },
  {
    x: 2178, y: 592, w: 544, h: 362, yMax: 9499, yStep: 200, yMajor: 1000, yLabels: false,
    layers: ppDpiMinusLayers, dk: ppDpiSigDK, dpi: ppDpiMinusSigDpi, total: ppDpiMinusTotal, counts: ppDpiMinusData,
    marker: 9, cap: 4, xTitle: "~m(Dπ~^{−}~)~ [MeV/c^{2}]",
  },
];

function Overlay() {
  return (
    <svg width={2785} height={1078} style={{ position: "absolute", left: 0, top: 0, pointerEvents: "none" }}>
      <rect x={0} y={0} width={2785} height={4} fill="#2b72be" />
      <rect x={20} y={13} width={2765} height={16} fill="#00a2ff" />
      <rect x={20} y={13} width={16} height={1065} fill="#00a2ff" />

      {/* titles */}
      <g fontFamily={SERIF} fill="#000">
        <text x={521} y={125} fontSize={95} fontStyle="italic">K</text>
        <text x={592} y={98} fontSize={70}>+</text>
        <text x={637} y={125} fontSize={95} fontStyle="italic">K</text>
        <text x={712} y={88} fontSize={70}>−</text>
        <text x={757} y={126} fontSize={92} fontStyle="italic">π</text>
        <text x={814} y={98} fontSize={70}>+</text>
        <text x={860} y={126} fontSize={92} fontStyle="italic">π</text>
        <text x={917} y={88} fontSize={70}>−</text>

        <text x={1996} y={127} fontSize={98} fontStyle="italic">π</text>
        <text x={2052} y={90} fontSize={72}>+</text>
        <text x={2098} y={127} fontSize={98} fontStyle="italic">π</text>
        <text x={2153} y={89} fontSize={72}>−</text>
        <text x={2201} y={127} fontSize={98} fontStyle="italic">π</text>
        <text x={2255} y={90} fontSize={72}>+</text>
        <text x={2303} y={127} fontSize={98} fontStyle="italic">π</text>
        <text x={2361} y={89} fontSize={72}>−</text>
      </g>

      {PANELS.map((p, i) => (
        <g key={i} fontFamily={SERIF} fill="#000">
          <rect x={p.x} y={p.y} width={p.w} height={p.h} fill="none" stroke="#000" strokeWidth={4} />
          <text transform={`translate(${p.x + 63},${p.y + 60}) scale(0.84,1)`} fontSize={30}>LHCb</text>
          <text transform={`translate(${p.x + 63},${p.y + 92}) scale(0.84,1)`} fontSize={30}>
            {tex("9 fb^{-1}", 30)}
          </text>
          <text x={p.x + p.w + 1} y={p.y + p.h + 60} textAnchor="end" fontSize={31}>
            {tex(p.xTitle, 31)}
          </text>
          {p.yTitle && (
            <text
              transform={`translate(${p.x - 80 + 13},${p.y + p.h / 2 - 4}) rotate(-90) scale(0.86,1)`}
              textAnchor="middle"
              fontSize={38}
            >
              {tex("Candidates / (6.20 MeV/c^{2})", 38)}
            </text>
          )}
        </g>
      ))}
    </svg>
  );
}

export default function App() {
  return (
    <div
      style={{
        position: "absolute",
        left: 0,
        top: 0,
        width: 2785,
        height: 1078,
        background: "#ffffff",
        overflow: "hidden",
        fontFamily: SERIF,
      }}
    >
      {PANELS.map((p, i) => (
        <Panel key={i} {...p} />
      ))}
      <Overlay />
    </div>
  );
}
